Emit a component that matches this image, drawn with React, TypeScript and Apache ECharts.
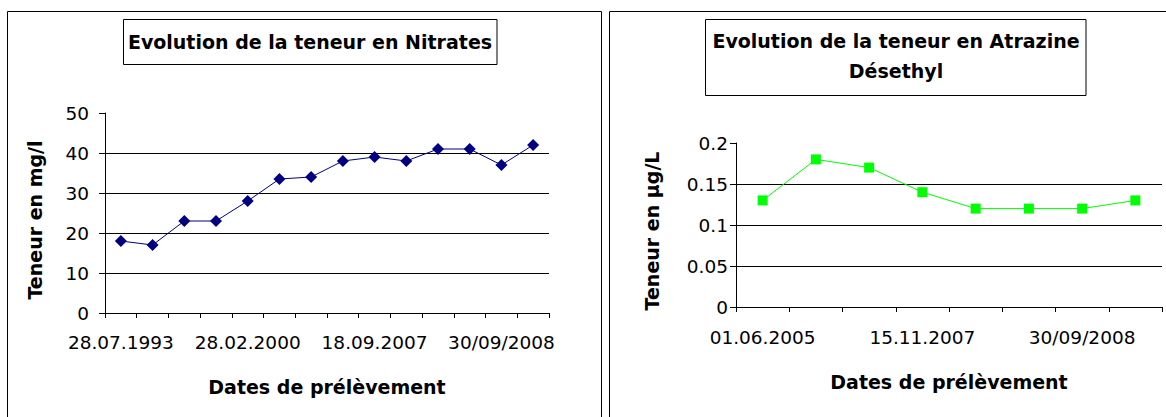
import React, { useEffect, useRef } from "react";
import * as echarts from "echarts";

const FONT = "DejaVu Sans";

const nitrateDates = [
  "28.07.1993", "15.06.1995", "20.05.1997", "12.10.1998", "28.02.2000",
  "18.06.2002", "09.03.2004", "01.06.2005", "18.09.2007", "15.11.2007",
  "22.04.2008", "17/07/2008", "30/09/2008", "10/12/2008",
];
const nitrateValues = [18, 17, 23, 23, 28, 33.5, 34, 38, 39, 38, 41, 41, 37, 42];

const atrazineDates = [
  "01.06.2005", "12.03.2006", "18.09.2007", "15.11.2007",
  "22.04.2008", "17/07/2008", "30/09/2008", "10/12/2008",
];
const atrazineValues = [0.13, 0.18, 0.17, 0.14, 0.12, 0.12, 0.12, 0.13];

const titleLeft = "Evolution de la teneur en Nitrates";
const titleRight = "Evolution de la teneur en Atrazine\nDésethyl";
const yNameLeft = "Teneur en mg/l";
const yNameRight = "Teneur en µg/L";
const xName = "Dates de prélèvement";

export default function App() {
  const ref = useRef<HTMLDivElement>(null);

  useEffect(() => {
    document.body.style.margin = "0";
    const chart = echarts.init(ref.current!, null, { renderer: "svg" });

    const tickLabel = { color: "#000", fontFamily: FONT, fontSize: 18.5 };
    const nameStyle = { color: "#000", fontFamily: FONT, fontSize: 19, fontWeight: "bold" as const };

    const xAxisCommon = {
      type: "category" as const,
      boundaryGap: true,
      nameLocation: "middle" as const,
      nameTextStyle: nameStyle,
      axisLine: { show: true, lineStyle: { color: "#000", width: 1 } },
      axisTick: { show: true, interval: 0, length: 5, inside: false, lineStyle: { color: "#000" } },
      splitLine: { show: false },
    };
    const yAxisCommon = {
      type: "value" as const,
      nameLocation: "middle" as const,
      nameRotate: 90,
      axisLine: { show: true, lineStyle: { color: "#000", width: 1 } },
      axisTick: { show: true, length: 6, inside: false, lineStyle: { color: "#000" } },
      splitLine: { show: true, showMaxLine: false, lineStyle: { color: "#000", width: 1 } },
    };

    chart.setOption({
      animation: false,
      backgroundColor: "#fff",
      graphic: [
        { type: "rect", z: 0, shape: { x: 7.5, y: 11.5, width: 594, height: 420 }, style: { fill: "#fff", stroke: "#000", lineWidth: 1 } },
        { type: "rect", z: 0, shape: { x: 609.5, y: 11.5, width: 570, height: 420 }, style: { fill: "#fff", stroke: "#000", lineWidth: 1 } },
        { type: "rect", z: 1, shape: { x: 123.5, y: 19.5, width: 373.5, height: 45 }, style: { fill: "#fff", stroke: "#000", lineWidth: 1 } },
        { type: "rect", z: 1, shape: { x: 705.5, y: 19.5, width: 380.5, height: 76 }, style: { fill: "#fff", stroke: "#000", lineWidth: 1 } },
      ],
      title: [
        {
          text: titleLeft,
          left: 310,
          top: 31,
          textAlign: "center",
          padding: 0,
          textStyle: { color: "#000", fontFamily: FONT, fontSize: 19, fontWeight: "bold", lineHeight: 22 },
        },
        {
          text: titleRight,
          left: 896,
          top: 26,
          textAlign: "center",
          padding: 0,
          textStyle: { color: "#000", fontFamily: FONT, fontSize: 19, fontWeight: "bold", lineHeight: 30 },
        },
      ],
      grid: [
        { left: 105, top: 113, width: 444, height: 200, show: true, backgroundColor: "#C0C0C0", borderColor: "#808080", borderWidth: 1, containLabel: false },
        { left: 736, top: 143, width: 426, height: 164, show: true, backgroundColor: "#C0C0C0", borderColor: "#808080", borderWidth: 1, containLabel: false },
      ],
      xAxis: [
        {
          ...xAxisCommon,
          gridIndex: 0,
          data: nitrateDates,
          name: xName,
          nameGap: 64,
          axisLabel: { ...tickLabel, interval: 3, margin: 20 },
        },
        {
          ...xAxisCommon,
          gridIndex: 1,
          data: atrazineDates,
          name: xName,
          nameGap: 65,
          axisLabel: { ...tickLabel, interval: 2, margin: 21 },
        },
      ],
      yAxis: [
        {
          ...yAxisCommon,
          gridIndex: 0,
          min: 0,
          max: 50,
          interval: 10,
          name: yNameLeft,
          nameGap: 61,
          nameTextStyle: { ...nameStyle, padding: [0, 14, 0, 0] },
          axisLabel: { ...tickLabel, margin: 16 },
        },
        {
          ...yAxisCommon,
          gridIndex: 1,
          min: 0,
          max: 0.2,
          interval: 0.05,
          name: yNameRight,
          nameGap: 75,
          nameTextStyle: { ...nameStyle, padding: [0, 12, 0, 0] },
          axisLabel: { ...tickLabel, margin: 8 },
        },
      ],
      series: [
        {
          type: "line",
          xAxisIndex: 0,
          yAxisIndex: 0,
          data: nitrateValues,
          symbol: "diamond",
          symbolSize: 12,
          lineStyle: { color: "#000080", width: 1 },
          itemStyle: { color: "#000080" },
        },
        {
          type: "line",
          xAxisIndex: 1,
          yAxisIndex: 1,
          data: atrazineValues,
          symbol: "rect",
          symbolSize: 10,
          lineStyle: { color: "#00FF00", width: 1 },
          itemStyle: { color: "#00FF00" },
        },
      ],
    });

    return () => {
      chart.dispose();
    };
  }, []);

  return <div ref={ref} style={{ width: 1166, height: 417 }} />;
}
